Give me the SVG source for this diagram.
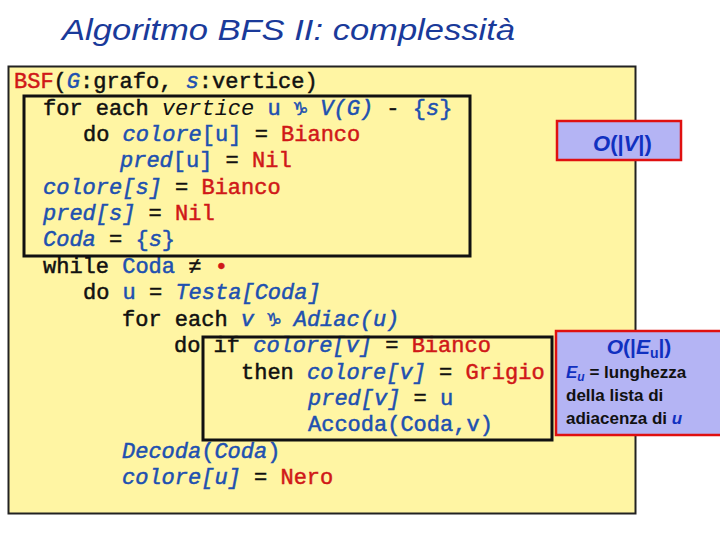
<svg xmlns="http://www.w3.org/2000/svg" width="720" height="540" viewBox="0 0 720 540">
<style>
.c{font-family:"Liberation Mono",monospace;font-size:22px;fill:#111;stroke:#111;stroke-width:0.5}
.b{fill:#2050b0;stroke:#2050b0}.i{font-style:italic}.r{fill:#d01818;stroke:#d01818}
.s{font-family:"Liberation Sans",Arial,sans-serif;font-weight:bold}
</style>
<rect width="720" height="540" fill="#fff"/>
<text x="62" y="40" font-family="Liberation Sans,Arial,sans-serif" font-style="italic" font-size="29" fill="#1a3a9a" textLength="453" lengthAdjust="spacingAndGlyphs">Algoritmo BFS II: complessità</text>
<g id="main"><rect x="8.5" y="66.5" width="627" height="447" fill="#fff5a3" stroke="#222" stroke-width="2"/></g>
<g id="code">
<text class="c" x="14" y="88"><tspan class="r">BSF</tspan>(<tspan class="b i">G</tspan>:grafo, <tspan class="b i">s</tspan>:vertice)</text>
<text class="c" x="43" y="115">for each <tspan stroke-width="0" font-style="italic">vertice</tspan> <tspan class="b">u</tspan> <tspan class="b">♑</tspan> <tspan class="b i">V(G)</tspan> - <tspan class="b">{</tspan><tspan class="b i">s</tspan><tspan class="b">}</tspan></text>
<text class="c" x="83" y="141">do <tspan class="b i">colore</tspan><tspan class="b">[u]</tspan> = <tspan class="r">Bianco</tspan></text>
<text class="c" x="120" y="167"><tspan class="b i">pred</tspan><tspan class="b">[u]</tspan> = <tspan class="r">Nil</tspan></text>
<text class="c" x="43" y="194"><tspan class="b i">colore[s]</tspan> = <tspan class="r">Bianco</tspan></text>
<text class="c" x="43" y="220"><tspan class="b i">pred[s]</tspan> = <tspan class="r">Nil</tspan></text>
<text class="c" x="43" y="246"><tspan class="b i">Coda</tspan> = <tspan class="b">{</tspan><tspan class="b i">s</tspan><tspan class="b">}</tspan></text>
<text class="c" x="43" y="273">while <tspan class="b">Coda</tspan> ≠ <tspan class="r">•</tspan></text>
<text class="c" x="83" y="299">do <tspan class="b">u</tspan> = <tspan class="b i">Testa[Coda]</tspan></text>
<text class="c" x="122" y="326">for each <tspan class="b i">v</tspan> <tspan class="b">♑</tspan> <tspan class="b i">Adiac(u)</tspan></text>
<text class="c" x="174" y="352">do if <tspan class="b i">colore[v]</tspan> = <tspan class="r">Bianco</tspan></text>
<text class="c" x="241" y="379">then <tspan class="b i">colore[v]</tspan> = <tspan class="r">Grigio</tspan></text>
<text class="c" x="308" y="405"><tspan class="b i">pred[v]</tspan> = <tspan class="b">u</tspan></text>
<text class="c b" x="308" y="431">Accoda(Coda,v)</text>
<text class="c" x="122" y="458"><tspan class="b i">Decoda</tspan><tspan class="b">(</tspan><tspan class="b i">Coda</tspan><tspan class="b">)</tspan></text>
<text class="c" x="122" y="484"><tspan class="b i">colore[u]</tspan> = <tspan class="r">Nero</tspan></text>
</g>
<g id="box1"><rect x="24" y="96" width="446" height="160" fill="none" stroke="#111" stroke-width="3"/></g>
<g id="box2"><rect x="203" y="337" width="349" height="103" fill="none" stroke="#111" stroke-width="3"/></g>
<g id="ov"><rect x="557" y="121" width="124" height="39" fill="#b4b4f4" stroke="#e01010" stroke-width="2.5"/>
<text class="s" x="593" y="151" font-size="22" fill="#1030c0" font-weight="normal"><tspan font-style="italic">O</tspan>(|<tspan font-style="italic">V</tspan>|)</text></g>
<g id="oe"><rect x="556" y="331" width="166" height="104" fill="#b4b4f4" stroke="#e01010" stroke-width="2.5"/>
<text class="s" x="639" y="354" font-size="21" text-anchor="middle" fill="#1030c0" font-weight="normal"><tspan font-style="italic">O</tspan>(|<tspan font-style="italic">E</tspan><tspan font-size="14" dy="4">u</tspan><tspan dy="-4">|)</tspan></text>
<text class="s" x="566" y="378" font-size="17" fill="#111"><tspan fill="#1030c0" font-style="italic">E<tspan font-size="12" dy="3">u</tspan></tspan><tspan dy="-3"> = lunghezza</tspan></text>
<text class="s" x="566" y="401" font-size="17" fill="#111">della lista di</text>
<text class="s" x="566" y="424" font-size="17" fill="#111">adiacenza di <tspan fill="#1030c0" font-style="italic">u</tspan></text></g>
</svg>
